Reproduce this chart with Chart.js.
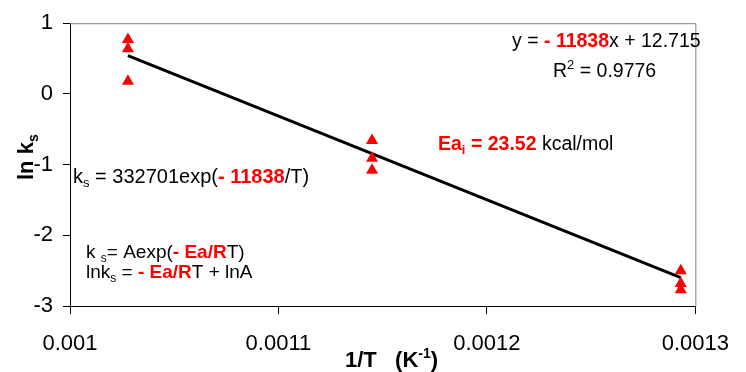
<!DOCTYPE html>
<html>
<head>
<meta charset="utf-8">
<script src="https://cdn.jsdelivr.net/npm/chart.js@4.4.0/dist/chart.umd.min.js"></script>
<style>
  html, body { margin: 0; padding: 0; background: #fff; }
  #wrap { width: 746px; height: 372px; position: relative; }
</style>
</head>
<body>
<div id="wrap"><canvas id="c" width="746" height="372"></canvas></div>
<script>
// ---- data ----
const invT = [0.0010278, 0.0010278, 0.0010278, 0.0011449, 0.0011449, 0.0011449, 0.0012930, 0.0012930, 0.0012930];
const lnKs = [0.77, 0.64, 0.18, -0.66, -0.91, -1.08, -2.50, -2.68, -2.77];
const trendX = [0.0010278, 0.0012930];
const trendY = [0.54, -2.60];
const xTickLabels = ['0.001', '0.0011', '0.0012', '0.0013'];
const yTickLabels = ['-3', '-2', '-1', '0', '1'];

const FONT = '"Liberation Sans", Arial, sans-serif';

function drawRich(ctx, x, y, segs, size) {
  let cx = x;
  for (const s of segs) {
    const fs = (s.sub || s.sup) ? Math.round(size * 0.65) : size;
    ctx.font = (s.bold ? 'bold ' : '') + fs + 'px ' + FONT;
    ctx.fillStyle = s.red ? '#ff0000' : '#000000';
    let dy = 0;
    if (s.sub) dy = size * 0.22;
    if (s.sup) dy = -size * 0.4;
    ctx.fillText(s.t, cx, y + dy);
    cx += ctx.measureText(s.t).width;
  }
  return cx;
}

const annotations = {
  id: 'annotations',
  beforeDatasetsDraw(chart) {
    const ctx = chart.ctx, a = chart.chartArea;
    ctx.save();
    ctx.strokeStyle = '#808080';
    ctx.lineWidth = 1;
    ctx.beginPath();
    ctx.moveTo(a.left, a.top + 0.5);
    ctx.lineTo(a.right + 0.5, a.top + 0.5);
    ctx.lineTo(a.right + 0.5, a.bottom);
    ctx.stroke();
    ctx.restore();
  },
  afterDraw(chart) {
    const ctx = chart.ctx;
    ctx.save();
    ctx.textBaseline = 'alphabetic';
    ctx.textAlign = 'left';
    const S = 19.5;
    drawRich(ctx, 512, 47, [{t: 'y = '}, {t: '- 11838', bold: true, red: true}, {t: 'x + 12.715'}], S);
    drawRich(ctx, 553, 77, [{t: 'R'}, {t: '2', sup: true}, {t: ' = 0.9776'}], S);
    drawRich(ctx, 438, 150, [{t: 'Ea', bold: true, red: true}, {t: 'i', bold: true, red: true, sub: true}, {t: ' = 23.52', bold: true, red: true}, {t: ' kcal/mol'}], S);
    drawRich(ctx, 73, 183, [{t: 'k'}, {t: 's', sub: true}, {t: ' = 332701exp('}, {t: '- 11838', bold: true, red: true}, {t: '/T)'}], 20);
    drawRich(ctx, 86, 258, [{t: 'k '}, {t: 's', sub: true}, {t: '= Aexp('}, {t: '- Ea/R', bold: true, red: true}, {t: 'T)'}], 19);
    drawRich(ctx, 86, 278, [{t: 'lnk'}, {t: 's', sub: true}, {t: ' = '}, {t: '- Ea/R', bold: true, red: true}, {t: 'T + lnA'}], 19);
    // axis titles
    drawRich(ctx, 345, 367, [{t: '1/T   (K', bold: true}, {t: '-1', bold: true, sup: true}, {t: ')', bold: true}], 22);
    ctx.translate(33, 180);
    ctx.rotate(-Math.PI / 2);
    drawRich(ctx, 0, 0, [{t: 'ln k', bold: true}, {t: 's', bold: true, sub: true}], 22);
    ctx.restore();
  }
};

new Chart(document.getElementById('c'), {
  type: 'scatter',
  data: {
    datasets: [
      {
        label: 'trend',
        type: 'line',
        data: trendX.map((x, i) => ({x, y: trendY[i]})),
        borderColor: '#000000',
        borderWidth: 3,
        pointRadius: 0,
        fill: false,
        order: 2
      },
      {
        label: 'ln ks',
        data: invT.map((x, i) => ({x, y: lnKs[i]})),
        pointStyle: 'triangle',
        pointRadius: 7,
        backgroundColor: '#ff0000',
        borderColor: '#ff0000',
        borderWidth: 0,
        order: 1
      }
    ]
  },
  options: {
    responsive: false,
    animation: false,
    devicePixelRatio: 1,
    layout: { padding: { top: 20, right: 38, left: 0, bottom: 0 } },
    plugins: { legend: { display: false }, tooltip: { enabled: false } },
    scales: {
      x: {
        type: 'linear',
        min: 0.001, max: 0.0013,
        afterFit(s) { s.height = 66; },
        afterBuildTicks(s) { s.ticks = xTickLabels.map(v => ({value: parseFloat(v)})); },
        ticks: {
          padding: 17,
          color: '#000',
          font: { family: FONT, size: 22 },
          maxRotation: 0,
          callback: (v, i) => xTickLabels[i]
        },
        grid: { display: true, drawOnChartArea: false, drawTicks: true, tickLength: 8, color: '#000' },
        border: { display: true, color: '#000', width: 1 }
      },
      y: {
        type: 'linear',
        min: -3, max: 1,
        afterFit(s) { s.width = 70; },
        afterBuildTicks(s) { s.ticks = yTickLabels.map(v => ({value: parseFloat(v)})); },
        ticks: {
          padding: 10,
          color: '#000',
          font: { family: FONT, size: 22 },
          callback: (v, i) => yTickLabels[i]
        },
        grid: { display: true, drawOnChartArea: false, drawTicks: true, tickLength: 7, color: '#000' },
        border: { display: true, color: '#000', width: 1 }
      }
    }
  },
  plugins: [annotations]
});
</script>
</body>
</html>
